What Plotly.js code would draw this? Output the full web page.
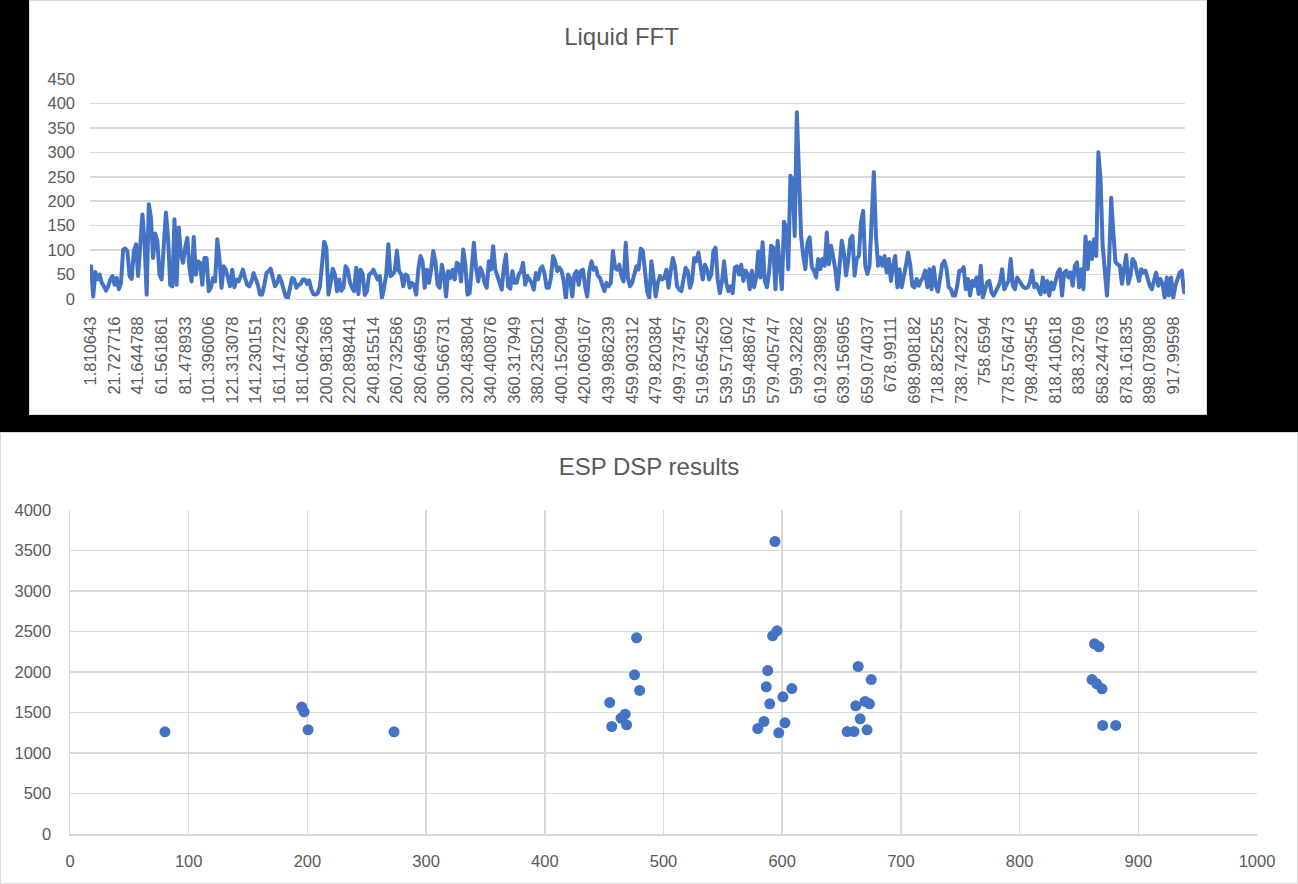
<!DOCTYPE html>
<html>
<head>
<meta charset="utf-8">
<script src="https://cdn.plot.ly/plotly-3.0.1.min.js"></script>
<style>
  html, body { margin: 0; padding: 0; background: #000; }
  body { width: 1298px; height: 884px; position: relative; overflow: hidden; }
  .panel { position: absolute; background: #fff; outline: 1px solid #d9d9d9; outline-offset: -1px; }
  #fft { left: 29px; top: 0px; width: 1178px; height: 415px; }
  #esp { left: 0px; top: 432px; width: 1298px; height: 452px; }
  .js-line { stroke-linejoin: round; stroke-linecap: round; }
</style>
</head>
<body>
<div id="fft" class="panel"></div>
<div id="esp" class="panel"></div>
<script>
// FFT bin spacing (Hz) and the category labels shown on the frequency axis
const binHz = 1.81064296;
const fftTickLabels = [
  "1.810643","21.727716","41.644788","61.561861","81.478933","101.396006","121.313078",
  "141.230151","161.147223","181.064296","200.981368","220.898441","240.815514","260.732586",
  "280.649659","300.566731","320.483804","340.400876","360.317949","380.235021","400.152094",
  "420.069167","439.986239","459.903312","479.820384","499.737457","519.654529","539.571602",
  "559.488674","579.405747","599.32282","619.239892","639.156965","659.074037","678.99111",
  "698.908182","718.825255","738.742327","758.6594","778.576473","798.493545","818.410618",
  "838.32769","858.244763","878.161835","898.078908","917.99598"
];

// Magnitude of each FFT bin (bins 1..512)
const fftMag = [
  67,5,55,40,50,33,26,17,26,40,
  47,29,43,20,33,101,103,98,47,41,
  98,112,47,105,173,118,9,194,166,84,
  134,118,50,40,118,177,125,29,26,163,
  29,146,91,74,105,125,64,36,127,50,
  77,74,29,84,84,16,23,43,36,122,
  84,23,67,60,43,26,60,24,40,36,
  47,60,43,29,26,36,53,43,29,9,
  9,29,53,57,62,43,26,33,47,36,
  19,5,2,26,43,40,23,29,31,40,
  40,31,38,19,10,9,12,26,77,117,
  105,9,33,62,50,16,40,17,23,67,
  60,35,23,16,64,10,60,51,8,16,
  50,53,60,49,40,47,2,23,50,112,
  47,50,57,99,57,51,26,50,47,23,
  33,29,9,60,88,77,23,60,33,60,
  98,77,29,23,70,50,5,57,43,60,
  40,74,70,36,101,70,9,12,64,115,
  64,36,64,53,33,23,77,60,108,60,
  47,33,19,64,91,26,21,57,33,33,
  50,57,74,29,
  47,40,33,19,53,40,60,67,53,23,
  23,43,88,77,57,64,57,36,1,50,
  43,5,50,57,29,57,60,26,5,57,
  77,60,64,47,43,29,16,33,26,33,
  98,64,60,70,47,36,115,43,26,33,
  53,67,60,103,98,60,16,2,77,43,
  5,33,47,40,43,60,23,57,84,67,
  26,19,16,40,64,57,23,36,84,77,
  95,67,40,70,60,40,50,98,105,40,
  12,36,77,33,16,26,12,64,67,50,
  70,
  37,58,51,20,58,24,44,97,44,116,
  37,24,54,109,105,20,119,75,20,158,
  146,61,252,245,129,382,279,129,88,61,
  116,126,65,58,44,82,61,82,68,136,
  71,109,85,61,20,61,119,95,48,78,
  122,129,48,82,88,156,180,68,51,68,
  170,260,129,68,85,68,88,54,82,37,
  68,88,24,61,24,44,68,95,71,27,
  24,41,27,37,44,58,24,61,20,65,
  27,15,41,71,78,61,24,20,7,7,
  27,58,
  58,65,20,41,7,37,27,44,10,68,
  3,20,34,37,14,7,14,24,34,61,
  20,31,37,82,27,20,44,37,31,24,
  22,24,34,58,24,31,20,10,44,14,
  37,7,34,20,37,54,61,7,54,58,
  44,54,27,68,75,24,61,20,128,61,
  116,82,122,88,300,245,109,54,7,75,
  207,136,75,71,68,31,68,90,31,48,
  82,75,54,37,61,54,58,44,27,20,
  37,54,27,41,31,3,44,7,44,3,
  27,41,54,58,14
];

// Peaks reported by the ESP DSP routine: frequency (Hz) and magnitude
const espFreq = [
  80, 195.2, 197.2, 200.6, 273,
  454.7, 456.4, 464.2, 467.7, 468.9, 475.6, 477.3, 479.9,
  579.4, 584.6, 586.6, 587.8, 589.5, 591.9, 593.9, 595.6, 597.1, 600.6, 602.3, 608.1,
  654.7, 660.5, 662, 664, 665.7, 669.8, 671.5, 673.5, 675,
  861, 863.1, 865, 866.9, 869.4, 870, 881
];
const espMag = [
  1262, 1567, 1509, 1287, 1262,
  1623, 1327, 1430, 1479, 1348, 1965, 2422, 1772,
  1302, 1389, 1817, 2018, 1607, 2446, 3611, 2508, 1249, 1693, 1372, 1796,
  1265, 1265, 1582, 2068, 1422, 1636, 1286, 1607, 1907,
  1907, 2348, 1854, 2311, 1792, 1340, 1340
];

const FONT = "Liberation Sans, Arial, sans-serif";
const TXT = "#595959";
const GRID = "#d9d9d9";
const BLUE = "#4472c4";

const fftFreq = fftMag.map((_, i) => binHz * (i + 1));

Plotly.newPlot("fft", [{
  type: "scatter",
  mode: "lines",
  x: fftFreq,
  y: fftMag,
  line: { color: BLUE, width: 4 },
  hoverinfo: "x+y"
}], {
  width: 1178, height: 415,
  margin: { l: 61, r: 22, t: 79, b: 116, pad: 0 },
  paper_bgcolor: "rgba(0,0,0,0)",
  plot_bgcolor: "#fff",
  showlegend: false,
  font: { family: FONT, color: TXT, size: 16.5 },
  title: {
    text: "Liquid FFT",
    font: { family: FONT, color: TXT, size: 24 },
    xref: "container", x: 0.503, xanchor: "center",
    yref: "container", y: 1 - 37 / 415, yanchor: "middle"
  },
  xaxis: {
    range: [binHz * 0.5, binHz * 512.5],
    tickmode: "array",
    tickvals: fftTickLabels.map(Number),
    ticktext: fftTickLabels,
    tickangle: -90,
    ticks: "",
    showgrid: false,
    zeroline: false,
    showline: true, linecolor: GRID, linewidth: 1,
    ticklabelstandoff: 10,
    tickfont: { family: FONT, color: TXT, size: 16.5 }
  },
  yaxis: {
    range: [0, 450],
    dtick: 50,
    ticks: "",
    showgrid: true, gridcolor: GRID, gridwidth: 1.5,
    zeroline: false,
    showline: false,
    ticklabelstandoff: 14,
    tickfont: { family: FONT, color: TXT, size: 16.5 }
  }
}, { displayModeBar: false, staticPlot: true });

Plotly.newPlot("esp", [{
  type: "scatter",
  mode: "markers",
  x: espFreq,
  y: espMag,
  marker: { color: BLUE, size: 11, line: { width: 0 } },
  hoverinfo: "x+y"
}], {
  width: 1298, height: 452,
  margin: { l: 70, r: 41, t: 78, b: 50, pad: 0 },
  paper_bgcolor: "rgba(0,0,0,0)",
  plot_bgcolor: "#fff",
  showlegend: false,
  font: { family: FONT, color: TXT, size: 16.5 },
  title: {
    text: "ESP DSP results",
    font: { family: FONT, color: TXT, size: 24 },
    xref: "container", x: 0.5, xanchor: "center",
    yref: "container", y: 1 - 35 / 452, yanchor: "middle"
  },
  xaxis: {
    range: [0, 1000],
    dtick: 100,
    ticks: "",
    showgrid: true, gridcolor: GRID, gridwidth: 1.5,
    zeroline: false,
    showline: true, linecolor: GRID, linewidth: 1.5,
    ticklabelstandoff: 12,
    tickfont: { family: FONT, color: TXT, size: 16.5 }
  },
  yaxis: {
    range: [0, 4000],
    dtick: 500,
    ticks: "",
    showgrid: true, gridcolor: GRID, gridwidth: 1.5,
    zeroline: false,
    showline: true, linecolor: GRID, linewidth: 1.5,
    ticklabelstandoff: 14,
    tickfont: { family: FONT, color: TXT, size: 16.5 }
  }
}, { displayModeBar: false, staticPlot: true });
</script>
</body>
</html>
